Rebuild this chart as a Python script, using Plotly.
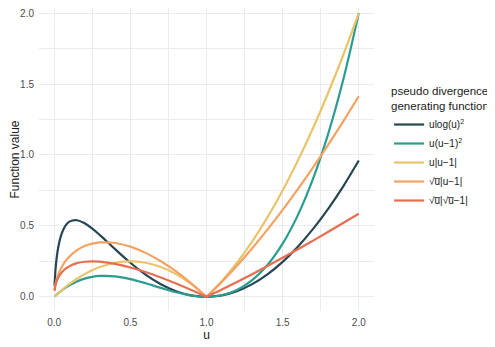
import plotly.graph_objects as go

u = [0.002, 0.01, 0.025, 0.05, 0.075, 0.1, 0.15, 0.2, 0.25, 0.3, 0.4, 0.5, 0.6, 0.7, 0.8, 0.9,
     1.0, 1.1, 1.2, 1.3, 1.4, 1.5, 1.6, 1.7, 1.8, 1.9, 2.0]

ulog2 = [0.0772, 0.2121, 0.3402, 0.4487, 0.5032, 0.5302, 0.5399, 0.5181, 0.4805, 0.4349, 0.3358,
         0.2402, 0.1566, 0.0890, 0.0398, 0.0100, 0.0, 0.0100, 0.0399, 0.0895, 0.1585, 0.2466,
         0.3534, 0.4787, 0.6219, 0.7827, 0.9609]
u_um1_sq = [0.0020, 0.0098, 0.0238, 0.0451, 0.0642, 0.081, 0.1084, 0.128, 0.1406, 0.147, 0.144,
            0.125, 0.096, 0.063, 0.032, 0.009, 0.0, 0.011, 0.048, 0.117, 0.224, 0.375, 0.576,
            0.833, 1.152, 1.539, 2.0]
u_abs = [0.0020, 0.0099, 0.0244, 0.0475, 0.0694, 0.09, 0.1275, 0.16, 0.1875, 0.21, 0.24, 0.25,
         0.24, 0.21, 0.16, 0.09, 0.0, 0.11, 0.24, 0.39, 0.56, 0.75, 0.96, 1.19, 1.44, 1.71, 2.0]
sqrtu_abs = [0.0446, 0.099, 0.1542, 0.2124, 0.2533, 0.2846, 0.3292, 0.3578, 0.375, 0.3834,
             0.3795, 0.3536, 0.3098, 0.2510, 0.1789, 0.0949, 0.0, 0.1049, 0.2191, 0.3421, 0.4733,
             0.6124, 0.7589, 0.9127, 1.0733, 1.2406, 1.4142]
sqrtu_sqrtabs = [0.0427, 0.09, 0.1331, 0.1736, 0.1989, 0.2162, 0.2373, 0.2472, 0.25, 0.2477,
                 0.2325, 0.2071, 0.1746, 0.1367, 0.0944, 0.0487, 0.0, 0.0512, 0.1046, 0.1598,
                 0.2168, 0.2753, 0.3351, 0.3962, 0.4584, 0.5216, 0.5858]

names = ["ulog(u)<sup>2</sup>", "u(u\u22121)<sup>2</sup>", "u|u\u22121|",
         "\u221au\u0305|u\u22121|", "\u221au\u0305|\u221au\u0305\u22121|"]
colors = ["#264653", "#2A9D8F", "#E9C46A", "#F4A261", "#E76F51"]
series = [ulog2, u_um1_sq, u_abs, sqrtu_abs, sqrtu_sqrtabs]

fig = go.Figure()
split = u.index(1.0)
for i, (nm, col, ys) in enumerate(zip(names, colors, series)):
    fig.add_trace(go.Scatter(x=u[:split + 1], y=ys[:split + 1], mode="lines", name=nm,
                             legendgroup=nm, line=dict(color=col, width=2.2, shape="spline")))
    fig.add_trace(go.Scatter(x=u[split:], y=ys[split:], mode="lines", name=nm,
                             legendgroup=nm, showlegend=False,
                             line=dict(color=col, width=2.2, shape="spline")))

grid = "#EBEBEB"
fig.update_layout(
    width=495, height=347,
    margin=dict(l=31, r=129, t=0, b=44, autoexpand=False),
    plot_bgcolor="white", paper_bgcolor="white",
    font=dict(family="Liberation Sans, Arial, sans-serif", color="#1a1a1a", size=11),
    legend=dict(x=1.045, y=0.762, xanchor="left", yanchor="top",
                title=dict(text="pseudo divergence<br>generating functions", font=dict(size=11.5)),
                font=dict(size=10), itemwidth=30, tracegroupgap=0),
    xaxis=dict(range=[-0.1, 2.1], tickvals=[0, 0.5, 1.0, 1.5, 2.0],
               ticktext=["0.0", "0.5", "1.0", "1.5", "2.0"], automargin=False,
               showgrid=True, gridcolor=grid, gridwidth=1.1, zeroline=False, showline=False,
               minor=dict(dtick=0.25, tick0=0, showgrid=True, gridcolor=grid, gridwidth=0.6),
               tickfont=dict(size=10, color="#4D4D4D"), ticks="", ticklabelstandoff=4,
               ticklabeloverflow="allow",
               title=dict(text="u", font=dict(size=12), standoff=2)),
    yaxis=dict(range=[-0.1, 2.036], tickvals=[0, 0.5, 1.0, 1.5, 2.0],
               ticktext=["0.0", "0.5", "1.0", "1.5", "2.0"], automargin=False,
               showgrid=True, gridcolor=grid, gridwidth=1.1, zeroline=False, showline=False,
               minor=dict(dtick=0.25, tick0=0, showgrid=True, gridcolor=grid, gridwidth=0.6),
               tickfont=dict(size=10, color="#4D4D4D"), ticks="", ticklabelstandoff=4,
               ticklabeloverflow="allow",
               title=dict(text="Function value", font=dict(size=12), standoff=4)),
)

fig.write_html("out.html")
